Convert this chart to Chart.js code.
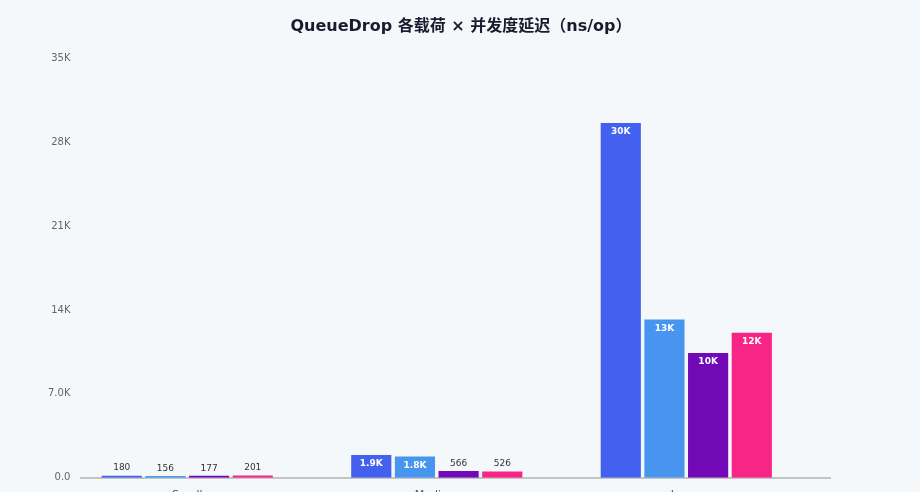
<!DOCTYPE html>
<html>
<head>
<meta charset="utf-8">
<script src="https://cdn.jsdelivr.net/npm/chart.js@4.4.1/dist/chart.umd.min.js"></script>
<style>
  html, body { margin: 0; padding: 0; background: #f5f8fa; overflow: hidden; }
  #wrap { position: relative; width: 920px; height: 515px; }
</style>
</head>
<body>
<div id="wrap"><canvas id="chart"></canvas></div>
<script>
// payload sizes (x axis)
var categories = ['Small', 'Medium', 'Large'];
// concurrency levels (series)
var seriesNames = ['并发 1', '并发 4', '并发 16', '并发 64'];
var seriesColors = ['#4361ee', '#4895ef', '#7209b7', '#f72585'];
// ns/op, one array per concurrency level
var conc1 = [180, 1910, 29600];
var conc4 = [156, 1780, 13200];
var conc16 = [177, 566, 10400];
var conc64 = [201, 526, 12100];
var yTicks = [0, 7000, 14000, 21000, 28000, 35000];

var seriesValues = [conc1, conc4, conc16, conc64];

// two significant digits, like 0.0 / 7.0K / 14K
function fmtTick(v) {
    if (v === 0) return '0.0';
    var k = v / 1000;
    if (Math.abs(v) >= 1000) {
        return (k >= 10 ? Math.round(k).toString() : k.toFixed(1)) + 'K';
    }
    return v.toString();
}

function fmtValue(v) {
    if (v >= 10000) return Math.round(v / 1000) + 'K';
    if (v >= 1000) return (v / 1000).toFixed(1) + 'K';
    return Math.round(v).toString();
}

// value labels: inside bar (white, bold) when it fits, else above it
var valueLabels = {
    id: 'valueLabels',
    afterDatasetsDraw: function(chart) {
        var ctx = chart.ctx;
        ctx.save();
        ctx.textAlign = 'center';
        chart.data.datasets.forEach(function(ds, di) {
            var meta = chart.getDatasetMeta(di);
            meta.data.forEach(function(bar, i) {
                var h = bar.base - bar.y;
                var txt = fmtValue(ds.data[i].y);
                if (h > 18) {
                    ctx.font = 'bold 9px "DejaVu Sans", sans-serif';
                    ctx.fillStyle = '#ffffff';
                    ctx.textBaseline = 'middle';
                    ctx.fillText(txt, bar.x, bar.y + 9);
                } else {
                    ctx.font = '9px "DejaVu Sans", sans-serif';
                    ctx.fillStyle = '#333333';
                    ctx.textBaseline = 'bottom';
                    ctx.fillText(txt, bar.x, bar.y - 3);
                }
            });
        });
        ctx.restore();
    }
};

var ctx = document.getElementById('chart').getContext('2d');
new Chart(ctx, {
    type: 'bar',
    data: {
        datasets: seriesValues.map(function(vals, i) {
            return {
                label: seriesNames[i],
                data: vals.map(function(v, j) { return { x: j, y: v }; }),
                backgroundColor: seriesColors[i],
                borderWidth: 0,
                categoryPercentage: 0.7,
                barPercentage: 0.92
            };
        })
    },
    options: {
        responsive: true,
        maintainAspectRatio: false,
        animation: false,
        layout: { padding: { left: 45, right: 43, top: 11, bottom: 10 } },
        plugins: {
            legend: { display: false },
            tooltip: { enabled: false },
            title: {
                display: true,
                text: 'QueueDrop 各载荷 × 并发度延迟（ns/op）',
                color: '#1b1b2f',
                font: { family: '"DejaVu Sans", "Noto Sans CJK SC", sans-serif', size: 16, weight: 'bold' },
                padding: { top: 6, bottom: 22 }
            }
        },
        scales: {
            x: {
                type: 'linear',
                offset: false,
                min: -0.424,
                max: 2.576,
                afterBuildTicks: function(axis) {
                    axis.ticks = categories.map(function(c, j) { return { value: j }; });
                },
                grid: { display: false },
                border: { display: true, color: '#c4c4c4', width: 2 },
                ticks: {
                    color: '#555',
                    padding: 3,
                    font: { family: '"DejaVu Sans", sans-serif', size: 11 },
                    callback: function(v) { return categories[v]; }
                }
            },
            y: {
                min: 0,
                max: 35000,
                afterBuildTicks: function(axis) {
                    axis.ticks = yTicks.map(function(v) { return { value: v }; });
                },
                grid: { display: false },
                border: { display: false },
                ticks: {
                    color: '#666',
                    padding: 3,
                    font: { family: '"DejaVu Sans", sans-serif', size: 10 },
                    callback: function(v) { return fmtTick(v); }
                }
            },
            // empty right-hand gutter
            y2: {
                position: 'right',
                grid: { display: false },
                border: { display: false },
                ticks: { display: false },
                afterFit: function(s) { s.width = 47; }
            }
        }
    },
    plugins: [valueLabels]
});
</script>
</body>
</html>
